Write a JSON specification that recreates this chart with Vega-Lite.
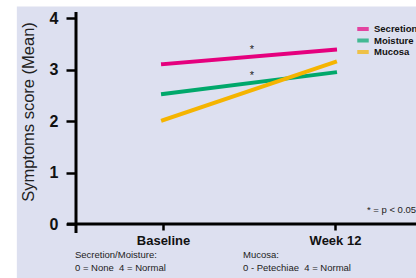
{
  "$schema": "https://vega.github.io/schema/vega-lite/v6.json",
  "width": 340,
  "height": 212,
  "autosize": {"type": "none"},
  "padding": {"left": 76, "top": 12, "right": 0, "bottom": 54},
  "background": "white",
  "config": {"view": {"stroke": null}, "font": "Liberation Sans"},
  "data": {"values": [{}]},
  "datasets": {
    "scores": [
      {"series": "Secretion", "time": 1, "score": 3.11},
      {"series": "Secretion", "time": 2, "score": 3.39},
      {"series": "Moisture", "time": 1, "score": 2.53},
      {"series": "Moisture", "time": 2, "score": 2.95},
      {"series": "Mucosa", "time": 1, "score": 2.02},
      {"series": "Mucosa", "time": 2, "score": 3.15}
    ],
    "stars": [
      {"time": 1.517, "score": 3.39, "mark": "*"},
      {"time": 1.517, "score": 2.88, "mark": "*"}
    ]
  },
  "layer": [
    {
      "mark": {"type": "rect", "color": "#dde0f0", "clip": false},
      "encoding": {
        "x": {"datum": 0.15, "type": "quantitative"},
        "x2": {"datum": 2.6},
        "y": {"datum": 4.23, "type": "quantitative"},
        "y2": {"datum": -1.1}
      }
    },
    {
      "data": {"name": "scores"},
      "mark": {"type": "line", "strokeWidth": 4, "strokeCap": "square"},
      "encoding": {
        "x": {
          "field": "time", "type": "quantitative",
          "scale": {"domain": [0.494, 2.471], "nice": false, "zero": false},
          "axis": {
            "orient": "bottom", "domain": false, "grid": false, "zindex": 2,
            "values": [1, 2],
            "labelExpr": "datum.value == 1 ? 'Baseline' : 'Week 12'",
            "tickSize": 6, "tickWidth": 2.5, "tickColor": "black",
            "labelFontSize": 13, "labelFontWeight": "bold", "labelColor": "#111",
            "labelPadding": 4, "title": null
          }
        },
        "y": {
          "field": "score", "type": "quantitative",
          "scale": {"domain": [0, 4.125], "nice": false, "zero": false},
          "axis": {
            "orient": "left", "domain": false, "grid": false, "zindex": 2,
            "values": [0, 1, 2, 3, 4], "format": "d",
            "tickSize": 10, "tickWidth": 2.5, "tickColor": "black",
            "labelFontSize": 16, "labelFontWeight": "bold", "labelColor": "#111",
            "labelPadding": 8,
            "title": "Symptoms score (Mean)",
            "titleFontSize": 16.5, "titleFontWeight": "normal", "titleColor": "#222",
            "titleX": -40, "titleY": 99.5
          }
        },
        "stroke": {
          "field": "series", "type": "nominal",
          "scale": {"domain": ["Secretion", "Moisture", "Mucosa"], "range": ["#e5007e", "#00a86b", "#f5b400"]},
          "legend": {
            "orient": "none", "legendX": 281, "legendY": 11,
            "title": null, "padding": 0, "zindex": 2,
            "symbolType": "M-1,-0.35H1V0.35H-1Z", "symbolSize": 132,
            "symbolStrokeWidth": 0,
            "labelFontSize": 9.5, "labelFontWeight": "bold", "labelColor": "#111",
            "labelOffset": 5, "rowPadding": 0.5
          }
        }
      }
    },
    {
      "data": {"name": "scores"},
      "mark": {"type": "point", "filled": true, "shape": "square", "size": 0},
      "encoding": {
        "x": {"field": "time", "type": "quantitative"},
        "y": {"field": "score", "type": "quantitative"},
        "fill": {
          "field": "series", "type": "nominal",
          "scale": {"domain": ["Secretion", "Moisture", "Mucosa"], "range": ["#e5007e", "#00a86b", "#f5b400"]},
          "legend": {
            "orient": "none", "legendX": 281, "legendY": 11,
            "title": null, "padding": 0, "zindex": 2,
            "symbolType": "M-1,-0.35H1V0.35H-1Z", "symbolSize": 132,
            "symbolStrokeWidth": 0,
            "labelFontSize": 9.5, "labelFontWeight": "bold", "labelColor": "#111",
            "labelOffset": 5, "rowPadding": 0.5
          }
        }
      }
    },
    {
      "mark": {"type": "rule", "color": "black", "strokeWidth": 3, "clip": false},
      "encoding": {
        "x": {"datum": 0.494, "type": "quantitative"},
        "y": {"datum": -0.175, "type": "quantitative"},
        "y2": {"datum": 4.125}
      }
    },
    {
      "mark": {"type": "rule", "color": "black", "strokeWidth": 3, "clip": false},
      "encoding": {
        "y": {"datum": 0, "type": "quantitative"},
        "x": {"datum": 0.442, "type": "quantitative"},
        "x2": {"datum": 2.6}
      }
    },
    {
      "data": {"name": "stars"},
      "mark": {"type": "text", "fontSize": 11, "color": "#222", "baseline": "middle"},
      "encoding": {
        "x": {"field": "time", "type": "quantitative"},
        "y": {"field": "score", "type": "quantitative"},
        "text": {"field": "mark"}
      }
    },
    {
      "mark": {"type": "text", "fontSize": 9.5, "color": "#222", "align": "left", "baseline": "middle", "clip": false, "text": "* = p < 0.05"},
      "encoding": {
        "x": {"datum": 2.186, "type": "quantitative"},
        "y": {"datum": 0.27, "type": "quantitative"}
      }
    },
    {
      "mark": {"type": "text", "fontSize": 9.5, "color": "#222", "align": "left", "baseline": "middle", "clip": false, "text": "Secretion/Moisture:"},
      "encoding": {
        "x": {"datum": 0.488, "type": "quantitative"},
        "y": {"datum": -0.6, "type": "quantitative"}
      }
    },
    {
      "mark": {"type": "text", "fontSize": 9.5, "color": "#222", "align": "left", "baseline": "middle", "clip": false, "text": "0 = None\u00a0\u00a04 = Normal"},
      "encoding": {
        "x": {"datum": 0.488, "type": "quantitative"},
        "y": {"datum": -0.85, "type": "quantitative"}
      }
    },
    {
      "mark": {"type": "text", "fontSize": 9.5, "color": "#222", "align": "left", "baseline": "middle", "clip": false, "text": "Mucosa:"},
      "encoding": {
        "x": {"datum": 1.465, "type": "quantitative"},
        "y": {"datum": -0.6, "type": "quantitative"}
      }
    },
    {
      "mark": {"type": "text", "fontSize": 9.5, "color": "#222", "align": "left", "baseline": "middle", "clip": false, "text": "0 - Petechiae\u00a0\u00a04 = Normal"},
      "encoding": {
        "x": {"datum": 1.465, "type": "quantitative"},
        "y": {"datum": -0.85, "type": "quantitative"}
      }
    }
  ]
}
